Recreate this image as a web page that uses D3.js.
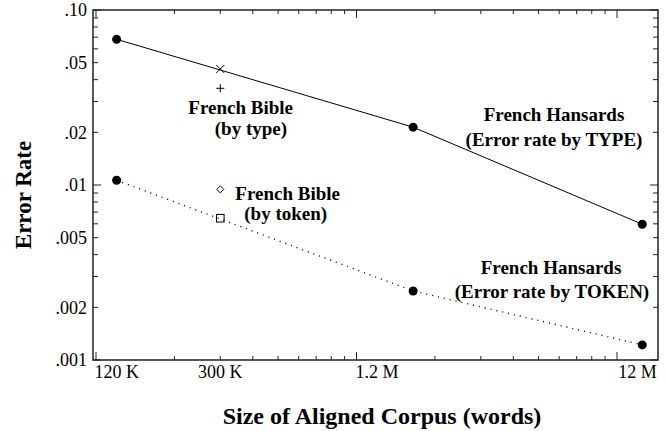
<!DOCTYPE html>
<html>
<head>
<meta charset="utf-8">
<script src="https://cdn.jsdelivr.net/npm/d3@7"></script>
<style>
  body { margin: 0; background: #fff; }
</style>
</head>
<body>
<script>
// data
var corpusSizes = [120000, 1650000, 12500000];
var hansardsType = [0.0680, 0.0214, 0.00597];
var hansardsToken = [0.01064, 0.00248, 0.00122];
var bibleSize = 300000;
var bibleType = [0.0460, 0.0357];   // x marker, + marker
var bibleToken = [0.00944, 0.00646]; // diamond, square
var xTickValues = [120000, 300000, 1200000, 12000000];
var xTickLabels = ["120 K", "300 K", "1.2 M", "12 M"];
var yTickValues = [0.1, 0.05, 0.02, 0.01, 0.005, 0.002, 0.001];
var yTickLabels = [".10", ".05", ".02", ".01", ".005", ".002", ".001"];

var FONT = "'Liberation Serif'";

// set the dimensions and margins of the graph
var margin = {top: 10, right: 10, bottom: 71, left: 93},
  width = 668 - margin.left - margin.right,
  height = 431 - margin.top - margin.bottom;

var svg = d3.select("body")
    .append("svg")
    .attr("width", width + margin.left + margin.right)
    .attr("height", height + margin.top + margin.bottom)
    .append("g")
    .attr("transform", "translate(" + margin.left + "," + margin.top + ")");

var x = d3.scaleLog().domain([1e5, 1e7]).range([3, 524]);
var y = d3.scaleLog().domain([0.001, 0.1]).range([height, 0]);

// minor/major ticks on every side
var xt = [];
[1e5, 1e6].forEach(function(d) { d3.range(1, 10).forEach(function(k) { xt.push(k * d); }); });
xt.push(1e7);
var yt = [];
[0.001, 0.01].forEach(function(d) { d3.range(1, 10).forEach(function(k) { yt.push(k * d); }); });
yt.push(0.1);
var isDecade = function(v) { return Math.abs(Math.log10(v) - Math.round(Math.log10(v))) < 1e-9; };

var ticks = svg.append("g").attr("stroke", "#222").attr("stroke-width", 1);
xt.forEach(function(v) {
  var len = isDecade(v) ? 8 : 4;
  ticks.append("line").attr("x1", x(v)).attr("x2", x(v)).attr("y1", height).attr("y2", height - len);
  ticks.append("line").attr("x1", x(v)).attr("x2", x(v)).attr("y1", 0).attr("y2", len);
});
yt.forEach(function(v) {
  var len = isDecade(v) ? 8 : 5;
  ticks.append("line").attr("x1", 0).attr("x2", len).attr("y1", y(v)).attr("y2", y(v));
  ticks.append("line").attr("x1", width).attr("x2", width - len).attr("y1", y(v)).attr("y2", y(v));
});

// frame
svg.append("rect")
  .attr("width", width).attr("height", height)
  .attr("fill", "none").attr("stroke", "#222").attr("stroke-width", 1.5);

// tick labels
svg.selectAll(".ylab")
  .data(yTickValues)
  .enter().append("text")
  .attr("x", -6)
  .attr("y", function(d) { return y(d); })
  .attr("dy", "0.35em")
  .attr("text-anchor", "end")
  .attr("font-family", FONT)
  .attr("font-size", 18)
  .text(function(d, i) { return yTickLabels[i]; });

svg.selectAll(".xlab")
  .data(xTickValues)
  .enter().append("text")
  .attr("x", function(d) { return x(d); })
  .attr("y", height + 18)
  .attr("text-anchor", "middle")
  .attr("font-family", FONT)
  .attr("font-size", 18)
  .text(function(d, i) { return xTickLabels[i]; });

// axis titles
svg.append("text")
  .attr("transform", "translate(" + (-62) + "," + 185 + ") rotate(-90)")
  .attr("text-anchor", "middle")
  .attr("font-family", FONT)
  .attr("font-size", 23).attr("font-weight", "bold")
  .text("Error Rate");

svg.append("text")
  .attr("x", 289).attr("y", height + 64)
  .attr("text-anchor", "middle")
  .attr("font-family", FONT)
  .attr("font-size", 24).attr("font-weight", "bold")
  .text("Size of Aligned Corpus (words)");

// lines
var line = d3.line()
  .x(function(d) { return x(d[0]); })
  .y(function(d) { return y(d[1]); });

svg.append("path")
  .datum(d3.zip(corpusSizes, hansardsType))
  .attr("d", line)
  .attr("fill", "none").attr("stroke", "#000").attr("stroke-width", 1);

svg.append("path")
  .datum(d3.zip(corpusSizes, hansardsToken))
  .attr("d", line)
  .attr("fill", "none").attr("stroke", "#000").attr("stroke-width", 1.4)
  .attr("stroke-dasharray", "1,5");

// filled dots
svg.selectAll(".dot")
  .data(d3.zip(corpusSizes, hansardsType).concat(d3.zip(corpusSizes, hansardsToken)))
  .enter().append("circle")
  .attr("cx", function(d) { return x(d[0]); })
  .attr("cy", function(d) { return y(d[1]); })
  .attr("r", 4.5)
  .attr("fill", "#000");

// French Bible markers
var bx = x(bibleSize), s = 4;
var mk = svg.append("g").attr("fill", "none").attr("stroke", "#000").attr("stroke-width", 1);
mk.append("path").attr("d",
  "M" + (bx - s) + "," + (y(bibleType[0]) - s) + "L" + (bx + s) + "," + (y(bibleType[0]) + s) +
  "M" + (bx - s) + "," + (y(bibleType[0]) + s) + "L" + (bx + s) + "," + (y(bibleType[0]) - s));
mk.append("path").attr("d",
  "M" + (bx - s) + "," + y(bibleType[1]) + "H" + (bx + s) +
  "M" + bx + "," + (y(bibleType[1]) - s) + "V" + (y(bibleType[1]) + s));
mk.append("path").attr("d",
  "M" + bx + "," + (y(bibleToken[0]) - 3.5) + "L" + (bx + 3.5) + "," + y(bibleToken[0]) +
  "L" + bx + "," + (y(bibleToken[0]) + 3.5) + "L" + (bx - 3.5) + "," + y(bibleToken[0]) + "Z");
mk.append("rect")
  .attr("x", bx - 3.8).attr("y", y(bibleToken[1]) - 3.8)
  .attr("width", 7.6).attr("height", 7.6);

// annotations
var notes = [
  {t: "French Bible", x: bx - 32, y: 104, a: "start"},
  {t: "(by type)", x: bx - 5.5, y: 124.5, a: "start"},
  {t: "French Bible", x: bx + 15, y: 190, a: "start"},
  {t: "(by token)", x: bx + 24, y: 210, a: "start"},
  {t: "French Hansards", x: 461, y: 111, a: "middle"},
  {t: "(Error rate by TYPE)", x: 461, y: 136, a: "middle"},
  {t: "French Hansards", x: 458, y: 264, a: "middle"},
  {t: "(Error rate by TOKEN)", x: 459, y: 288, a: "middle"}
];
svg.selectAll(".lbl")
  .data(notes)
  .enter().append("text")
  .attr("class", "lbl")
  .attr("x", function(d) { return d.x; })
  .attr("y", function(d) { return d.y; })
  .attr("text-anchor", function(d) { return d.a; })
  .attr("font-family", FONT)
  .attr("font-size", 19).attr("font-weight", "bold")
  .text(function(d) { return d.t; });
</script>
</body>
</html>
